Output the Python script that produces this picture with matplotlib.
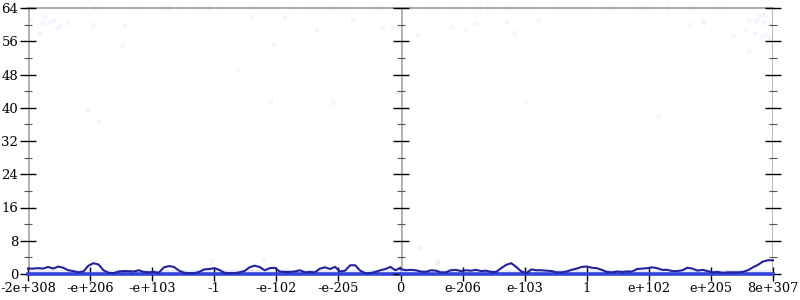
import numpy as np
import matplotlib
matplotlib.use("Agg")
import matplotlib.pyplot as plt
from matplotlib.ticker import MultipleLocator

plt.rcParams['font.family'] = ['DejaVu Serif', 'serif']

# tick labels along the x axis (13 evenly spaced positions over 0..745)
x_tick_labels = ["-2e+308", "-e+206", "-e+103", "-1", "-e-102", "-e-205", "0",
                 "e-206", "e-103", "1", "e+102", "e+205", "8e+307"]
y_ticks = [0, 8, 16, 24, 32, 40, 48, 56, 64]

# smoothed line values, left half (negative) and right half (positive)
line_left = [1.3, 1.3, 1.4, 1.3, 1.7, 1.3, 1.8, 1.5, 0.9, 0.7, 0.4, 0.6, 2.0, 2.6, 2.3,
             0.9, 0.3, 0.2, 0.6, 0.7, 0.7, 0.6, 0.9, 0.5, 0.4, 0.5, 0.3, 1.6, 1.9, 1.7,
             0.8, 0.3, 0.2, 0.2, 0.5, 1.1, 1.2, 1.4, 1.0, 0.3, 0.2, 0.2, 0.4, 0.7, 1.6,
             2.0, 1.7, 0.9, 1.4, 1.5, 0.6, 0.5, 0.5, 0.6, 0.9, 0.4, 0.5, 0.4, 1.3, 1.6,
             1.2, 1.7, 0.6, 0.8, 2.1, 2.1, 0.8, 0.2, 0.2, 0.5, 0.9, 1.2, 1.7, 0.9, 1.5]
line_right = [1.2, 0.9, 1.0, 0.9, 0.6, 0.5, 0.9, 0.8, 0.4, 0.4, 0.9, 1.0, 0.7, 0.9, 0.8,
              1.0, 0.7, 0.8, 0.5, 0.5, 1.4, 2.2, 2.6, 1.7, 0.6, 0.2, 1.1, 0.9, 0.9, 0.8,
              0.7, 0.4, 0.4, 0.6, 1.0, 1.3, 1.7, 1.8, 1.5, 1.4, 1.0, 0.5, 0.4, 0.6, 0.5,
              0.6, 0.6, 1.2, 1.3, 1.4, 1.6, 1.4, 1.0, 1.0, 0.7, 0.7, 0.9, 1.5, 1.3, 0.8,
              1.0, 0.7, 0.4, 0.5, 0.3, 0.4, 0.4, 0.4, 0.5, 0.9, 1.6, 2.2, 3.0, 3.3, 3.3]

# faint scatter samples (position along 0..745, value)
scatter_x = [3, 12, 15, 17, 21, 26, 30, 33, 40, 60, 65, 71, 95, 97, 210, 224, 243, 246,
             257, 289, 305, 325, 354, 365, 369,
             54, 65, 69, 107, 115, 135, 139, 142, 150, 170, 179, 182, 190, 222, 227, 234,
             244, 265, 279, 290, 295, 302, 305, 314, 322, 348, 352, 365,
             390, 424, 437, 449, 479, 487, 498, 511, 631, 662, 675, 677, 705, 717, 721,
             721, 727, 729, 732, 734, 736, 737, 739, 742, 742,
             382, 402, 409, 427, 434, 452, 460, 480, 484, 500, 507, 532, 547, 552, 562,
             580, 584, 612, 617, 622, 640, 662, 667, 692,
             184, 236, 392, 410, 410,
             5, 22, 38, 52, 70, 88, 104, 121, 139, 155, 172, 190, 206, 224, 241, 258, 275,
             292, 309, 327, 343, 360, 378, 395, 412, 430, 446, 463, 481, 497, 514, 531,
             548, 565, 582, 600, 616, 633, 651, 668, 684, 702]
scatter_y = [61.1, 57.7, 60.4, 61.8, 60.4, 60.9, 59.2, 59.7, 60.4, 39.5, 59.9, 36.6, 54.9,
             59.7, 49.1, 61.8, 41.4, 55.1, 61.6, 58.7, 41.1, 61.1, 59.2, 59.2, 43.6,
             64, 64, 64, 64, 64, 64, 64, 64, 64, 64, 64, 64, 64, 64, 64, 64,
             64, 64, 64, 64, 64, 64, 64, 64, 64, 64, 64, 64,
             57.5, 59.4, 58.5, 60.2, 60.6, 58.0, 41.4, 60.9, 37.8, 59.9, 60.6, 60.4, 57.3,
             58.5, 60.9, 53.7, 57.7, 60.9, 62.1, 57.0, 60.4, 62.3, 57.5, 56.8, 60.2,
             64, 64, 64, 64, 64, 64, 64, 64, 64, 64, 64, 64, 64, 64, 64,
             64, 64, 64, 64, 64, 64, 64, 64, 64,
             3.1, 3.6, 6.2, 2.6, 2.9,
             0.6, 0.8, 0.4, 0.9, 0.5, 0.7, 0.3, 0.8, 0.6, 0.4, 0.9, 0.5, 0.7, 0.6, 0.3, 0.8,
             0.5, 0.7, 0.4, 0.9, 0.6, 0.5, 0.8, 0.4, 0.7, 0.6, 0.3, 0.8, 0.5, 0.9, 0.6, 0.4,
             0.7, 0.5, 0.8, 0.6, 0.4, 0.7, 0.5, 0.9, 0.6, 0.4]

TOTAL = 745.0
HALF = TOTAL / 2
tick_pos = np.linspace(0, TOTAL, len(x_tick_labels))

fig = plt.figure(figsize=(8, 3), dpi=100)
L, R, B, T = 28 / 800, 773 / 800, 1 - 274 / 300, 1 - 8 / 300
W = (R - L) / 2
axL = fig.add_axes([L, B, W, T - B])
axR = fig.add_axes([L + W, B, W, T - B])

gray = '#b0b0b0'
line_col = '#22229a'
zero_col = '#3344dd'
pt_col = '#8888ff'

xl = np.linspace(0, HALF, len(line_left))
xr = np.linspace(HALF, TOTAL, len(line_right))
sx = np.array(scatter_x, float)
sy = np.array(scatter_y, float)

for ax, (x0, x1), xs, ys in [(axL, (0, HALF), xl, line_left), (axR, (HALF, TOTAL), xr, line_right)]:
    ax.set_xlim(x0, x1)
    ax.set_ylim(0, 64)
    m = (sx >= x0) & (sx <= x1)
    ax.scatter(sx[m], sy[m], s=14, color=pt_col, alpha=0.08, edgecolors='none',
               clip_on=False, zorder=1)
    ax.fill_between([x0, x1], 0, 0.9, color='#dde0ff', alpha=0.6, lw=0, zorder=1)
    ax.plot([x0, x1], [0, 0], color=zero_col, lw=2.6, zorder=2, clip_on=False)
    ax.plot(xs, ys, color=line_col, lw=1.5, zorder=3, clip_on=False)
    ax.set_facecolor('none')
    for s in ['top', 'bottom', 'left', 'right']:
        ax.spines[s].set_visible(False)
    ax.yaxis.set_major_locator(MultipleLocator(8))
    ax.yaxis.set_minor_locator(MultipleLocator(4))
    ax.tick_params(axis='y', which='major', direction='inout', length=12, width=1, color='black')
    ax.tick_params(axis='y', which='minor', direction='inout', length=6, width=0.8, color='#555555')
    ax.tick_params(axis='x', which='major', direction='inout', length=10, width=1, color='black',
                   labelsize=9.3, pad=1)
    # top border
    ax.plot([x0, x1], [64, 64], color=gray, lw=1.5, zorder=0, clip_on=False)

# left axis with labels
axL.axvline(0, color=gray, lw=2, zorder=0)
axL.set_yticks(y_ticks)
axL.set_yticklabels([str(v) for v in y_ticks], fontsize=9.5)
axL.tick_params(axis='y', which='major', pad=1)
axL.yaxis.set_ticks_position('left')

# middle axis (left spine of right panel) and right axis
axR.axvline(HALF, color=gray, lw=2, zorder=0)
axR.axvline(TOTAL, color=gray, lw=2, zorder=0)
axR.yaxis.set_ticks_position('both')
axR.tick_params(axis='y', which='both', labelleft=False, labelright=False)

mask_l = tick_pos <= HALF + 1e-6
axL.set_xticks(tick_pos[mask_l])
axL.set_xticklabels([lab for lab, k in zip(x_tick_labels, mask_l) if k])
axR.set_xticks(tick_pos[~mask_l])
axR.set_xticklabels([lab for lab, k in zip(x_tick_labels, mask_l) if not k])

fig.savefig('out.png', dpi=100)
